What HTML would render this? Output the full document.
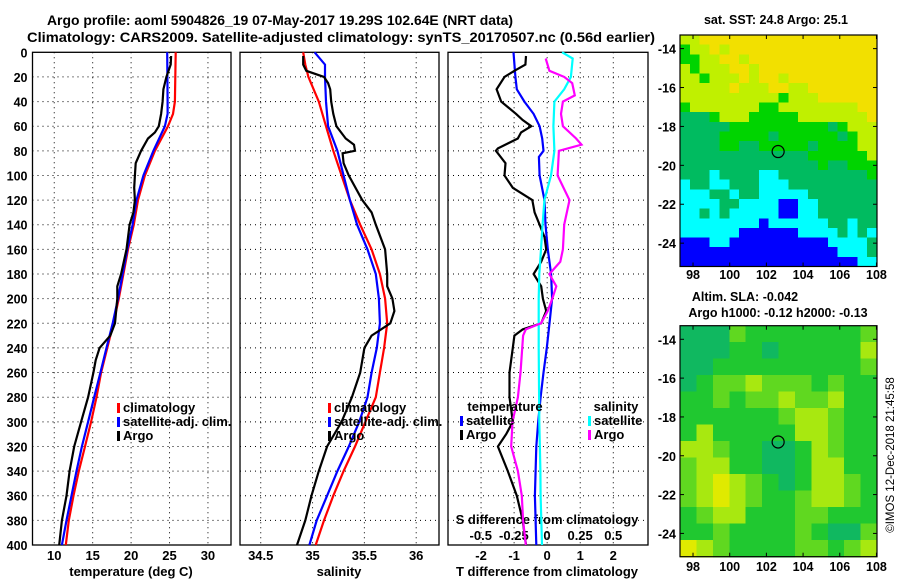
<!DOCTYPE html>
<html><head><meta charset="utf-8"><style>
html,body{margin:0;padding:0;background:#fff;}
svg{display:block;font-family:"Liberation Sans",sans-serif;font-weight:bold;}
</style></head><body>
<svg id="fig" width="900" height="580" viewBox="0 0 900 580" xmlns="http://www.w3.org/2000/svg">
<text x="47" y="25" font-size="14" textLength="466" lengthAdjust="spacingAndGlyphs">Argo profile: aoml 5904826_19 07-May-2017 19.29S 102.64E (NRT data)</text>
<text x="27" y="42" font-size="14" textLength="628" lengthAdjust="spacingAndGlyphs">Climatology: CARS2009. Satellite-adjusted climatology: synTS_20170507.nc (0.56d earlier)</text>
<text x="776" y="24" font-size="12.5" text-anchor="middle">sat. SST: 24.8 Argo: 25.1</text>
<text x="745" y="301" font-size="12.5" text-anchor="middle">Altim. SLA: -0.042</text>
<text x="778" y="317" font-size="12.5" text-anchor="middle">Argo h1000: -0.12 h2000: -0.13</text>
<text transform="translate(894,455) rotate(-90)" font-size="11.5" font-weight="normal" text-anchor="middle">©IMOS 12-Dec-2018 21:45:58</text>
</svg>
<script>
// ---- data ----
const tDepth=[0,40,50,60,80,100,120,140,160,180,200,220,240,260,280,300,320,340,360,380,400];
const tempClim=[25.8,25.7,25.45,24.8,23.1,21.8,20.9,20.35,19.6,19.0,18.4,17.7,16.9,16.1,15.5,14.8,14.0,13.2,12.5,11.9,11.5];
const tempSat=[24.7,24.75,24.75,24.4,22.9,21.6,20.7,20.2,19.5,18.9,18.3,17.6,16.8,16.0,15.2,14.4,13.6,12.9,12.25,11.6,11.0];
const argoTDepth=[3,10,20,30,40,50,60,65,70,80,90,100,110,120,130,140,160,180,190,200,220,230,240,250,260,280,300,320,340,360,370,380,400];
const tempArgo=[25.2,25.15,24.6,24.2,24.1,23.9,23.6,23.1,22.2,21.3,20.6,20.5,20.4,20.5,20.3,19.8,19.4,18.7,18.2,18.2,17.9,17.3,15.9,15.4,15.1,14.4,13.5,12.6,12.0,11.6,11.3,11.0,10.65];
const sDepth=[0,10,20,40,60,80,100,120,140,160,180,200,220,240,260,280,300,320,340,360,380,400];
const salClim=[34.91,34.93,34.96,35.06,35.13,35.2,35.28,35.36,35.46,35.57,35.65,35.70,35.72,35.69,35.65,35.61,35.51,35.41,35.3,35.2,35.11,35.03];
const salSat=[35.02,35.12,35.12,35.13,35.15,35.24,35.3,35.36,35.43,35.53,35.61,35.64,35.65,35.62,35.57,35.53,35.45,35.35,35.24,35.14,35.04,34.97];
const argoSDepth=[3,10,15,20,25,30,40,50,60,70,75,80,82,90,100,120,130,140,160,180,190,200,210,220,230,240,260,280,300,320,340,360,380,400];
const salArgo=[34.91,34.91,34.94,35.11,35.15,35.17,35.18,35.2,35.23,35.32,35.4,35.41,35.29,35.3,35.35,35.48,35.57,35.61,35.70,35.72,35.72,35.77,35.79,35.75,35.57,35.5,35.46,35.38,35.28,35.14,35.06,34.99,34.93,34.85];
const dDepth=[0,20,30,40,50,60,70,80,85,100,120,140,160,180,200,220,240,260,280,300,320,340,360,380,400];
const tDiffSat=[-1.02,-0.96,-0.92,-0.69,-0.41,-0.23,-0.15,-0.11,-0.25,-0.23,-0.08,-0.05,0.02,0.12,0.15,0.07,-0.01,-0.11,-0.2,-0.27,-0.33,-0.35,-0.37,-0.35,-0.33];
const argoDDepth=[3,10,15,20,30,40,50,55,60,65,70,78,80,90,100,110,120,130,140,150,160,170,180,190,200,210,220,225,230,240,260,280,300,310,320,340,360,380,400];
const tDiffArgo=[-0.64,-0.66,-0.99,-1.29,-1.53,-1.39,-0.94,-0.74,-0.48,-0.79,-0.89,-1.49,-1.55,-1.26,-1.29,-1.04,-0.45,-0.38,-0.23,-0.08,-0.03,-0.18,-0.41,-0.18,-0.13,-0.03,-0.18,-0.74,-0.99,-1.04,-1.14,-1.14,-1.04,-1.24,-1.49,-1.19,-0.92,-0.74,-0.64];
const sdDepth=[0,5,20,30,40,60,80,100,120,140,160,180,200,240,300,340,360,380,400];
const sDiffSat=[0.114,0.194,0.18,0.13,0.056,0.048,0.056,0.03,-0.02,-0.033,-0.045,-0.058,-0.063,-0.063,-0.058,-0.05,-0.048,-0.043,-0.038];
const argoSdDepth=[5,15,20,25,35,40,50,60,70,75,80,100,120,140,160,170,180,190,200,210,220,225,230,260,280,300,320,340,360,380,400];
const sDiffArgo=[-0.01,0.018,0.13,0.19,0.21,0.12,0.106,0.12,0.22,0.26,0.09,0.08,0.17,0.13,0.12,0.1,0.018,0.07,0.04,0.005,-0.045,-0.16,-0.18,-0.2,-0.22,-0.26,-0.27,-0.22,-0.19,-0.18,-0.16];
const depthTicks=[0,20,40,60,80,100,120,140,160,180,200,220,240,260,280,300,320,340,360,380,400];
const tempTicks=[10,15,20,25,30];
const salTicks=[34.5,35,35.5,36];
const tdTicks=[-2,-1,0,1,2];
const sdTicks=[-0.5,-0.25,0,0.25,0.5];
const sdTickLabels=["-0.5","-0.25","0","0.25","0.5"];
const lonTicks=[98,100,102,104,106,108];
const latTicks=[-14,-16,-18,-20,-22,-24];
const argoLon=102.64, argoLat=-19.29;
const sstGrid=[
"LLYYYYYYYYYYYYYYYYYY","GLLYLYYYYYYYYYYYYYYY","GGLLYYLYYYYYYYYYYYYY","LGLLLYYLYYYYYYYYYYYY",
"LLGLLLYLYYLYYYYYYYYY","LLLLLYLLLYYLLYYYYYYY","LLLLLLLLLLGLLLYYYYYY","GLLLLLLLGGLLLLLLLLYY",
"DDDGLLLGGGGGLLLLLLLY","DDDDDGGGGGGGGGGDGLLL","DDDDGGGGGDGGGGGGDGLL","DDDDGGDDGGGGGDGGGGLL",
"DDDDDDDDDDDDDGGGGGGL","DDDDDDDDDDDDDDGDDGGG","DDDCDDDDCCDDDDDDDDDG","CDDCCDDDCCCDDDDDDDDD",
"CCCDDCDDCCCCCDDDDDDD","CCCCDDCCCCBBCCDDDDDD","CCDCDCCCCCBBCCDDDDDD","CCCCCCCCBCCCCCCDDCDD",
"CCCCCCBBBBBBCCCCDCDC","BBBCCBBBBBBBBBBCCCCD","BBBBBBBBBBBBBBBBCCCD","BBBBBBBBBBBBBBBBBBCC"];
const slaGrid=[
"TTTMGGGGGGGM","TTTGGTGGGGGL","TTGGGGGGGGGM","TGMMLMMMGMGG","GGMGMMLMMLGG","GGGGGGMLLMGG","GLGGGGGLLMGG",
"LLMGGTTGLMGG","MLLGGTTGLLGG","MLYLMGTGLLMG","MLYLMGGMLLMG","GMLLGGGMMGGG","GGMGGGGMGTTM","YLMGGGGMMGML"];
const sstColors={Y:"#f2e000",L:"#c0f000",G:"#00d400",D:"#00bb60",C:"#00ffff",B:"#0000ff"};
const slaColors={T:"#10b860",G:"#20c830",M:"#60d820",L:"#a8e810",Y:"#e0ea00"};

const NS="http://www.w3.org/2000/svg";
const svg=document.getElementById('fig');
function mk(tag,attrs,parent,txt){const e=document.createElementNS(NS,tag);for(const k in attrs)e.setAttribute(k,attrs[k]);if(txt!==undefined)e.textContent=txt;(parent||svg).appendChild(e);return e;}

const TOP=52.3,BOT=545;
function yD(d){return TOP+d*(BOT-TOP)/400;}

function panel(name,x0,x1,xmin,xmax){
  const g=mk('g',{});
  
  
  return {g,x0,x1,sx:v=>x0+(v-xmin)*(x1-x0)/(xmax-xmin)};
}
function frameAndGrid(p,ticks,labels,showDepthLabels,tickLabelY){
  depthTicks.forEach(d=>{
    if(d>0&&d<400){const l=mk('line',{x1:p.x0,x2:p.x1,y1:yD(d),y2:yD(d),stroke:'#000','stroke-width':1,'stroke-dasharray':'1,4'},p.g);
    
    }
    if(showDepthLabels){const t=mk('text',{x:p.x0-5,y:yD(d)+5,'font-size':12.5,'text-anchor':'end'},p.g,String(d));
    
    }
  });
  ticks.forEach((v,i)=>{
    const x=p.sx(v);
    const l=mk('line',{x1:x,x2:x,y1:TOP,y2:BOT,stroke:'#000','stroke-width':1,'stroke-dasharray':'1,4'},p.g);
    
    
    const t=mk('text',{x:x,y:tickLabelY,'font-size':13,'text-anchor':'middle'},p.g,labels?labels[i]:String(v));
    
    
  });
  const r=mk('rect',{x:p.x0,y:TOP,width:p.x1-p.x0,height:BOT-TOP,fill:'none',stroke:'#000','stroke-width':1.3},p.g);
  
  
}
function series(p,name,vals,depths,color){
  const pts=vals.map((v,i)=>p.sx(v).toFixed(1)+','+yD(depths[i]).toFixed(1)).join(' ');
  const l=mk('polyline',{points:pts,fill:'none',stroke:color,'stroke-width':2.2,'stroke-linejoin':'miter'},p.g);
  
  
}
function legendItem(g,name,x,y,color,label){
  const b=mk('rect',{x:x,y:y-9,width:3,height:10,fill:color},g);
  
  
  const t=mk('text',{x:x+6,y:y,'font-size':13},g,label);
  
  
}
function axisTitle(g,name,x,y,txt){const t=mk('text',{x:x,y:y,'font-size':13,'text-anchor':'middle'},g,txt);
  
  }

// Panel 1 temperature
const p1=panel('temperature-panel',32.5,231,7.17,33.0);
frameAndGrid(p1,tempTicks,null,true,560);
series(p1,'temp-climatology-line',tempClim,tDepth,'#ff0000');
series(p1,'temp-satellite-line',tempSat,tDepth,'#0000ff');
series(p1,'temp-argo-line',tempArgo,argoTDepth,'#000000');
legendItem(p1.g,'legend-climatology',117,412,'#ff0000','climatology');
legendItem(p1.g,'legend-satellite-adj',117,426,'#0000ff','satellite-adj. clim.');
legendItem(p1.g,'legend-argo',117,440,'#000000','Argo');
axisTitle(p1.g,'temperature-axis-title',131,576,'temperature (deg C)');

// Panel 2 salinity
const p2=panel('salinity-panel',240,439,34.30,36.22);
frameAndGrid(p2,salTicks,null,false,560);
series(p2,'sal-climatology-line',salClim,sDepth,'#ff0000');
series(p2,'sal-satellite-line',salSat,sDepth,'#0000ff');
series(p2,'sal-argo-line',salArgo,argoSDepth,'#000000');
legendItem(p2.g,'legend-climatology-2',328,412,'#ff0000','climatology');
legendItem(p2.g,'legend-satellite-adj-2',328,426,'#0000ff','satellite-adj. clim.');
legendItem(p2.g,'legend-argo-2',328,440,'#000000','Argo');
axisTitle(p2.g,'salinity-axis-title',339,576,'salinity');

// Panel 3 differences
const p3=panel('difference-panel',448,648,-3.0,3.05);
frameAndGrid(p3,tdTicks,null,false,560);
const sdx=v=>547+v*132.5;
sdTicks.forEach((v,i)=>{const t=mk('text',{x:sdx(v),y:540,'font-size':13,'text-anchor':'middle'},p3.g,sdTickLabels[i]);
  
  });
axisTitle(p3.g,'s-diff-axis-title',547,524,'S difference from climatology');
series(p3,'t-diff-satellite-line',tDiffSat,dDepth,'#0000ff');
series(p3,'t-diff-argo-line',tDiffArgo,argoDDepth,'#000000');
const p3s={g:p3.g,sx:sdx};
series(p3s,'s-diff-satellite-line',sDiffSat,sdDepth,'#00ffff');
series(p3s,'s-diff-argo-line',sDiffArgo,argoSdDepth,'#ff00ff');
axisTitle(p3.g,'temperature-legend-heading',505,411,'temperature');
legendItem(p3.g,'legend-t-satellite',460,425,'#0000ff','satellite');
legendItem(p3.g,'legend-t-argo',460,439,'#000000','Argo');
axisTitle(p3.g,'salinity-legend-heading',616,411,'salinity');
legendItem(p3.g,'legend-s-satellite',588,425,'#00ffff','satellite');
legendItem(p3.g,'legend-s-argo',588,439,'#ff00ff','Argo');
axisTitle(p3.g,'t-diff-axis-title',547,576,'T difference from climatology');

// Maps
function map(name,top,bot,grid,colors,lonLabelY){
  const g=mk('g',{});
  
  
  const L=680,R=877,lonMin=97.29,lonMax=108.03;
  const latMin=-13.3, latMax=-25.2;
  const sx=v=>L+(v-lonMin)*(R-L)/(lonMax-lonMin);
  const sy=v=>top+(v-latMin)*(bot-top)/(latMax-latMin);
  const rows=grid.length, cols=grid[0].length;
  const cw=(R-L)/cols, ch=(bot-top)/rows;
  grid.forEach((row,ri)=>{[...row].forEach((c,ci)=>{
    const r=mk('rect',{x:(L+ci*cw).toFixed(2),y:(top+ri*ch).toFixed(2),width:(cw+0.6).toFixed(2),height:(ch+0.6).toFixed(2),fill:colors[c],'shape-rendering':'crispEdges'},g);
    
    
  });});
  const f=mk('rect',{x:L,y:top,width:R-L,height:bot-top,fill:'none',stroke:'#000','stroke-width':1.2},g);
  
  
  lonTicks.forEach(v=>{const x=sx(v);
    mk('line',{x1:x,x2:x,y1:top,y2:top+4,stroke:'#000'},g);mk('line',{x1:x,x2:x,y1:bot,y2:bot-4,stroke:'#000'},g);
    const t=mk('text',{x:x,y:lonLabelY,'font-size':12.5,'text-anchor':'middle'},g,String(v));
    
    });
  latTicks.forEach(v=>{const y=sy(v);
    mk('line',{x1:L,x2:L+4,y1:y,y2:y,stroke:'#000'},g);mk('line',{x1:R,x2:R-4,y1:y,y2:y,stroke:'#000'},g);
    const t=mk('text',{x:L-4,y:y+5,'font-size':12.5,'text-anchor':'end'},g,String(v));
    
    });
  const c=mk('circle',{cx:sx(argoLon),cy:sy(argoLat),r:6,fill:'none',stroke:'#000','stroke-width':1.2},g);
  
  
}
map('sst-map',35,266.5,sstGrid,sstColors,279);
map('sla-map',325.7,556.7,slaGrid,slaColors,571);
</script>
</body></html>
